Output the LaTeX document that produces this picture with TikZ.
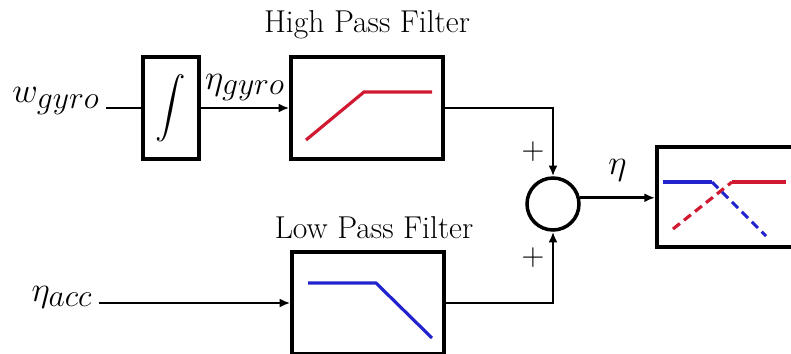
\RequirePackage{fix-cm}
\documentclass[tikz,border=0pt]{standalone}
\usepackage{amsmath}
\usetikzlibrary{arrows.meta}
\DeclareMathSizes{20}{20}{18}{14}
\definecolor{hpred}{RGB}{210,25,50}
\definecolor{lpblue}{RGB}{35,35,205}
\tikzset{
  block/.style={draw, line width=2pt, inner sep=0pt, minimum height=2.04cm},
  sig/.style={font=\fontsize{20}{24}\selectfont},
  txt/.style={font=\fontsize{18}{22}\selectfont},
  flow/.style={line width=1.6pt, -{Latex[length=6pt,width=5pt]}},
  curve/.style={line width=1.8pt},
  dashcurve/.style={line width=1.8pt, dash pattern=on 5pt off 3pt}
}
\begin{document}
\begin{tikzpicture}[x=0.02cm, y=-0.02cm]
  \useasboundingbox (0,0) rectangle (791,354);
  \node[sig] (wgyro) at (56,101) {$w_{gyro}$};
  \node[block, minimum width=1.12cm, font=\fontsize{17}{20}\selectfont] (int) at (171,108) {$\displaystyle\int$};
  \node[block, minimum width=3.04cm] (hpf) at (367,108) {};
  \node[txt] (hpftext) at (367,25) {High Pass Filter};
  \node[block, minimum width=3.04cm] (lpf) at (368,303) {};
  \node[txt] (lpftext) at (374,228) {Low Pass Filter};
  \node[sig] (eacc) at (62,297) {$\eta_{acc}$};
  \node[draw, circle, line width=2pt, minimum size=1.04cm, inner sep=0pt] (sum) at (553,204) {};
  \node[txt] (plusa) at (533,152) {$+$};
  \node[txt] (plusb) at (533,258) {$+$};
  \node[block, minimum width=2.8cm, minimum height=2cm, anchor=west] (out) at (655,197) {};
  \draw[line width=1.6pt] (wgyro.east |- int.west) -- (int.west);
  \draw[flow] (int.east) -- (hpf.west) node[midway, above, sig] (egyro) {$\eta_{gyro}$};
  \draw[flow] (hpf.east) -- (hpf.east -| sum) -- (sum.north);
  \draw[flow] (eacc.east |- lpf.west) -- (lpf.west);
  \draw[flow] (lpf.east) -- (lpf.east -| sum) -- (sum.south);
  \draw[flow] (sum.13) -- (sum.13 -| out.west) node[midway, above=5pt, sig] (eta) {$\eta$};
  \draw[curve, hpred] (306,140) -- (364,92) -- (432,92);
  \draw[curve, lpblue] (308,283) -- (376,283) -- (432,338);
  \draw[curve, lpblue] (663,182) -- (712,182);
  \draw[dashcurve, hpred] (673,229) -- (732,182);
  \draw[curve, hpred] (732,182) -- (786,182);
  \draw[dashcurve, lpblue] (712,182) -- (766,236);
\end{tikzpicture}
\end{document}
